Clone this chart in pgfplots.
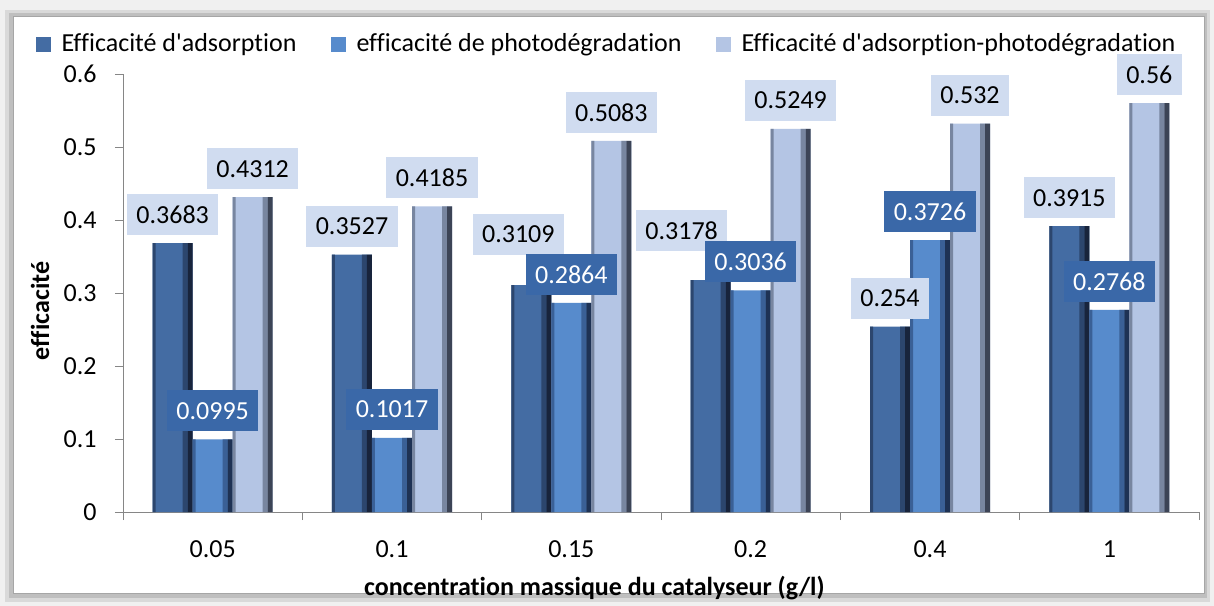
\documentclass[border=0pt]{standalone}
\usepackage{fontspec}
\setmainfont{Carlito}[Ligatures=CommonOff]
\usepackage{pgfplots}
\usepackage{pgfplotstable}
\pgfplotsset{compat=1.18}

\definecolor{sA}{RGB}{68,108,163}
\definecolor{sAm}{RGB}{44,70,110}
\definecolor{sAd}{RGB}{24,36,60}
\definecolor{sB}{RGB}{87,139,204}
\definecolor{sBm}{RGB}{58,96,150}
\definecolor{sBd}{RGB}{30,50,84}
\definecolor{sC}{RGB}{180,197,228}
\definecolor{sCm}{RGB}{120,134,160}
\definecolor{sCd}{RGB}{60,68,86}
\definecolor{lblL}{RGB}{208,220,240}
\definecolor{lblD}{RGB}{58,104,168}
\definecolor{axgray}{RGB}{134,134,134}

% x = category index, lbl = data label, dx/dy = label offset in bp
\pgfplotstableread{
x y lbl dx dy
0 0.3683 0.3683 0 0
1 0.3527 0.3527 0 0
2 0.3109 0.3109 -6.5 11
3 0.3178 0.3178 -14.5 10.5
4 0.254 0.254 0 0
5 0.3915 0.3915 0 0
}\adsorp
\pgfplotstableread{
x y lbl dx dy
0 0.0995 0.0995 0 0
1 0.1017 0.1017 0 0
2 0.2864 0.2864 0 0
3 0.3036 0.3036 0 0
4 0.3726 0.3726 0 0
5 0.2768 0.2768 0 0
}\photo
\pgfplotstableread{
x y lbl dx dy
0 0.4312 0.4312 0 0
1 0.4185 0.4185 0 0
2 0.5083 0.5083 0 0
3 0.5249 0.5249 0 0
4 0.532 0.532 0 0
5 0.56 0.56 0 0
}\both

\begin{document}
\fontsize{13bp}{15bp}\selectfont
\begin{tikzpicture}
% chart frame with soft shadow
\fill[gray!12] (-61.5bp,-47bp) rectangle (545.5bp,256bp);
\fill[gray!30] (-59bp,-45bp) rectangle (543.5bp,251bp);
\fill[gray!50] (-57bp,-43bp) rectangle (542bp,249.5bp);
\fill[white,draw=gray!70] (-55bp,-40.5bp) rectangle (540.5bp,248bp);

\begin{axis}[
    scale only axis,
    width=538bp, height=219bp,
    clip=false,
    ybar=0pt, bar width=20bp,
    xmin=-0.5, xmax=5.5,
    ymin=0, ymax=0.6,
    axis x line*=bottom, axis y line*=left,
    axis line style={axgray},
    tick align=outside,
    major tick length=4bp, minor tick length=4bp,
    tick style={axgray},
    xtick={0,1,2,3,4,5},
    xticklabels={0.05,0.1,0.15,0.2,0.4,1},
    minor xtick={-0.5,0.5,1.5,2.5,3.5,4.5,5.5},
    major x tick style={draw=none},
    ytick={0,0.1,0.2,0.3,0.4,0.5,0.6},
    yticklabels={0,0.1,0.2,0.3,0.4,0.5,0.6},
    xticklabel style={anchor=base, yshift=-18.5bp, inner sep=0pt},
    yticklabel style={anchor=east, inner sep=0pt, xshift=-9bp},
    xlabel={concentration massique du catalyseur (g/l)},
    ylabel={efficacité},
    xlabel style={font=\bfseries, at={(axis description cs:0.438,0)}, anchor=center, yshift=-38bp},
    ylabel style={font=\bfseries, at={(axis description cs:0,0.459)}, anchor=center, yshift=41.5bp},
    legend columns=3,
    legend style={draw=none, fill=none, at={(axis description cs:0.4503,1.0685)}, anchor=center,
        inner sep=0pt, font=\fontsize{13bp}{15bp}\selectfont,
        /tikz/every odd column/.append style={column sep=3.5bp},
        /tikz/every even column/.append style={column sep=15bp}},
    legend image code/.code={\fill[#1] (0bp,-3.75bp) rectangle (7.5bp,3.75bp);},
    point meta=explicit symbolic,
    visualization depends on={\thisrow{dx} \as \dx},
    visualization depends on={\thisrow{dy} \as \dy},
    every node near coord/.append style={anchor=south, inner xsep=4.75bp, inner ysep=0pt,
        minimum height=20.5bp, outer sep=0pt, xshift=\dx bp, yshift={(4+\dy)*1bp},
        font=\fontsize{13bp}{15bp}\selectfont},
]
% main bars
\addplot[draw=none, fill=sA, bar shift=-20bp, nodes near coords,
    nodes near coords style={fill=lblL, text=black}]
    table[x=x, y=y, meta=lbl] {\adsorp};
\addlegendentry{Efficacité d\textquotesingle adsorption}
\addplot[draw=none, fill=sB, bar shift=0bp, nodes near coords,
    nodes near coords style={fill=lblD, text=white}]
    table[x=x, y=y, meta=lbl] {\photo};
\addlegendentry{efficacité de photodégradation}
\addplot[draw=none, fill=sC, bar shift=20bp, nodes near coords,
    nodes near coords style={fill=lblL, text=black}]
    table[x=x, y=y, meta=lbl] {\both};
\addlegendentry{Efficacité d\textquotesingle adsorption-photodégradation}

% bevel edges of the bars
\addplot[forget plot, draw=none, fill=sAm, bar width=2.5bp, bar shift=-13.75bp] table[x=x, y=y] {\adsorp};
\addplot[forget plot, draw=none, fill=sAd, bar width=2.5bp, bar shift=-11.25bp] table[x=x, y=y] {\adsorp};
\addplot[forget plot, draw=none, fill=sAm, bar width=1.5bp, bar shift=-29.25bp] table[x=x, y=y] {\adsorp};
\addplot[forget plot, draw=none, fill=sBm, bar width=2.5bp, bar shift=6.25bp] table[x=x, y=y] {\photo};
\addplot[forget plot, draw=none, fill=sBd, bar width=2.5bp, bar shift=8.75bp] table[x=x, y=y] {\photo};
\addplot[forget plot, draw=none, fill=sBm, bar width=1.5bp, bar shift=-9.25bp] table[x=x, y=y] {\photo};
\addplot[forget plot, draw=none, fill=sCm, bar width=2.5bp, bar shift=26.25bp] table[x=x, y=y] {\both};
\addplot[forget plot, draw=none, fill=sCd, bar width=2.5bp, bar shift=28.75bp] table[x=x, y=y] {\both};
\addplot[forget plot, draw=none, fill=sCm, bar width=1.5bp, bar shift=10.75bp] table[x=x, y=y] {\both};
\end{axis}
\pgfresetboundingbox
\path[use as bounding box] (-61.5bp,-47bp) rectangle (545.5bp,256bp);
\end{tikzpicture}
\end{document}
